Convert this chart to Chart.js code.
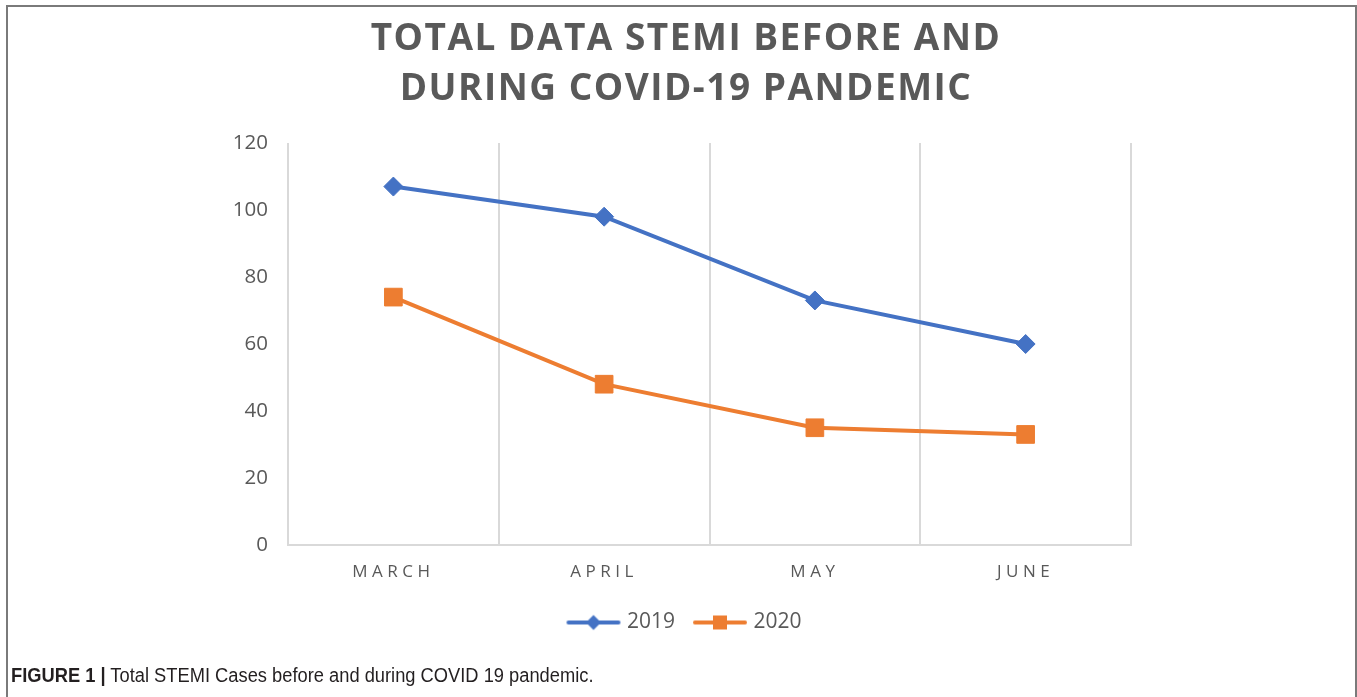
<!DOCTYPE html>
<html>
<head>
<meta charset="utf-8">
<script src="https://cdn.jsdelivr.net/npm/chart.js@4/dist/chart.umd.min.js"></script>
<style>
  html, body { margin: 0; padding: 0; background: #fff; }
  #wrap { position: relative; width: 1357px; height: 697px; overflow: hidden; }
  #frame {
    position: absolute; left: 6px; top: 5px; width: 1347px; height: 720px;
    border: 2px solid #7a7a7a; border-bottom: none; pointer-events: none;
  }
  #caption {
    position: absolute; left: 11px; top: 664px;
    font-family: "Liberation Sans Narrow", "Arial Narrow", "Liberation Sans", sans-serif;
    font-size: 20px; color: #231f20; white-space: nowrap;
    transform: scaleX(0.915); transform-origin: left center;
  }
  #caption b { font-weight: bold; }
</style>
</head>
<body>
<div id="wrap">
  <canvas id="chart" width="1357" height="697"></canvas>
  <div id="frame"></div>
  <div id="caption"><b>FIGURE 1 |</b> Total STEMI Cases before and during COVID 19 pandemic.</div>
</div>
<script>
const meses = ["MARCH", "APRIL", "MAY", "JUNE"];
const casos2019 = [107, 98, 73, 60];
const casos2020 = [74, 48, 35, 33];
const titulo = ["TOTAL DATA STEMI BEFORE AND", "DURING COVID-19 PANDEMIC"];

const AZUL = "#4472c4";
const NARANJA = "#ed7d31";
const GRIS = "#595959";

// icono de leyenda: linea con marcador
function iconoLeyenda(color, forma) {
    const c = document.createElement("canvas");
    c.width = 56;
    c.height = 20;
    const g = c.getContext("2d");
    g.strokeStyle = color;
    g.lineWidth = 4;
    g.lineCap = "round";
    g.beginPath();
    g.moveTo(3, 10);
    g.lineTo(53, 10);
    g.stroke();
    g.fillStyle = color;
    if (forma === "rombo") {
        g.beginPath();
        g.moveTo(28, 2.5);
        g.lineTo(35.5, 10);
        g.lineTo(28, 17.5);
        g.lineTo(20.5, 10);
        g.closePath();
        g.fill();
    } else {
        g.fillRect(21, 3, 14, 14);
    }
    return c;
}

const iconos = [iconoLeyenda(AZUL, "rombo"), iconoLeyenda(NARANJA, "cuadro")];

// espaciado de letras para titulo y etiquetas del eje x
const espaciado = {
    id: "espaciado",
    afterLayout(chart) {
        const xs = chart.scales.x;
        if (xs && !xs._espaciado) {
            const orig = xs.drawLabels;
            xs.drawLabels = function (area) {
                this.ctx.save();
                this.ctx.letterSpacing = "4.5px";
                orig.call(this, area);
                this.ctx.restore();
            };
            xs._espaciado = true;
        }
        const tb = chart.titleBlock;
        if (tb && !tb._espaciado) {
            const origT = tb.draw;
            tb.draw = function () {
                this.ctx.save();
                this.ctx.letterSpacing = "1.5px";
                origT.call(this);
                this.ctx.restore();
            };
            tb._espaciado = true;
        }
    }
};

const ctx = document.getElementById("chart").getContext("2d");

new Chart(ctx, {
    type: "line",
    data: {
        labels: meses,
        datasets: [
            {
                label: "2019",
                data: casos2019,
                borderColor: AZUL,
                backgroundColor: AZUL,
                borderWidth: 4,
                pointStyle: "rectRot",
                pointRadius: 9.5,
                pointBorderWidth: 1,
                tension: 0,
            },
            {
                label: "2020",
                data: casos2020,
                borderColor: NARANJA,
                backgroundColor: NARANJA,
                borderWidth: 4,
                pointStyle: "rect",
                pointRadius: 12.5,
                pointBorderWidth: 1,
                tension: 0,
            }
        ]
    },
    options: {
        responsive: false,
        animation: false,
        layout: { padding: { left: 200, right: 185, top: 0, bottom: 54 } },
        plugins: {
            title: {
                display: true,
                text: titulo,
                color: GRIS,
                font: { family: "'Open Sans'", size: 37, weight: "bold", lineHeight: 50 / 37 },
                padding: { top: 14, bottom: 29 }
            },
            legend: {
                position: "bottom",
                labels: {
                    usePointStyle: true,
                    pointStyleWidth: 46,
                    padding: 22,
                    color: GRIS,
                    font: { family: "'Open Sans'", size: 21 },
                    generateLabels(chart) {
                        return chart.data.datasets.map((ds, i) => ({
                            text: ds.label,
                            pointStyle: iconos[i],
                            fillStyle: ds.borderColor,
                            strokeStyle: ds.borderColor,
                            lineWidth: 0,
                            fontColor: GRIS,
                            datasetIndex: i,
                            hidden: false
                        }));
                    }
                }
            },
            tooltip: { enabled: false }
        },
        scales: {
            x: {
                offset: true,
                grid: { display: true, offset: true, color: "#d9d9d9", lineWidth: 2, drawTicks: false },
                border: { display: true, color: "#d9d9d9", width: 2 },
                ticks: { color: GRIS, padding: 17, font: { family: "'Open Sans'", size: 17 } },
                afterFit(scale) { scale.height = 45; }
            },
            y: {
                min: 0,
                max: 120,
                ticks: { stepSize: 20, color: GRIS, padding: 20, font: { family: "'Open Sans'", size: 20.5 } },
                grid: { display: false, drawTicks: false },
                border: { display: false },
                afterFit(scale) { scale.width = 88; }
            },
            // eje vacio a la derecha para centrar titulo y leyenda como en la figura
            yDer: {
                type: "linear",
                position: "right",
                grid: { display: false, drawTicks: false },
                border: { display: false },
                ticks: { display: false },
                afterFit(scale) { scale.width = 41; }
            }
        }
    },
    plugins: [espaciado]
});
</script>
</body>
</html>
